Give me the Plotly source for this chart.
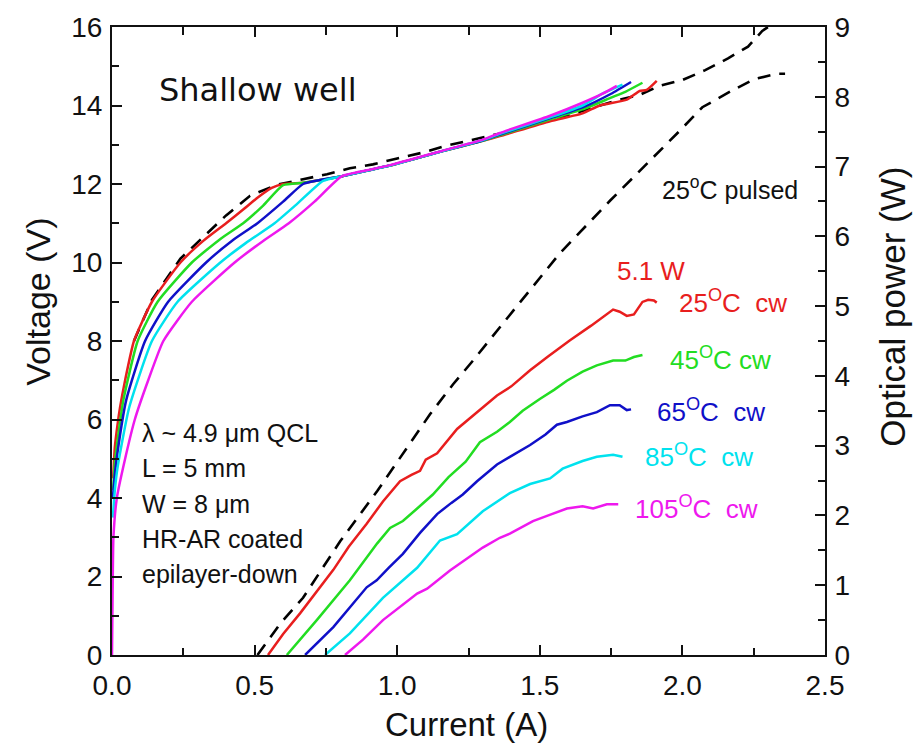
import plotly.graph_objects as go

# ---- Voltage vs current (left axis) ----
i_v25 = [0.004, 0.01, 0.02, 0.028, 0.046, 0.077, 0.14, 0.24, 0.32, 0.40, 0.46, 0.51, 0.56, 0.60, 0.67, 0.73, 0.806, 0.9, 0.975, 1.15, 1.3, 1.36, 1.536, 1.65, 1.71, 1.805, 1.85, 1.875, 1.91]
v_25 = [4.5, 5.3, 5.9, 6.3, 7.0, 8.0, 9.0, 10.0, 10.55, 11.0, 11.35, 11.65, 11.9, 12.0, 12.03, 12.1, 12.2, 12.35, 12.47, 12.82, 13.1, 13.22, 13.6, 13.8, 14.0, 14.15, 14.37, 14.4, 14.63]

i_v45 = [0.004, 0.01, 0.02, 0.04, 0.09, 0.16, 0.28, 0.38, 0.46, 0.53, 0.60, 0.67, 0.73, 0.806, 0.9, 0.975, 1.15, 1.3, 1.36, 1.536, 1.65, 1.75, 1.80, 1.86]
v_45 = [4.2, 4.9, 5.5, 6.5, 8.0, 9.0, 10.0, 10.6, 11.0, 11.45, 11.97, 12.03, 12.1, 12.2, 12.35, 12.47, 12.82, 13.1, 13.24, 13.65, 13.9, 14.2, 14.35, 14.58]

i_v65 = [0.003, 0.01, 0.02, 0.05, 0.116, 0.197, 0.33, 0.42, 0.51, 0.60, 0.67, 0.73, 0.806, 0.9, 0.975, 1.15, 1.3, 1.36, 1.536, 1.65, 1.75, 1.82]
v_65 = [4.0, 4.6, 5.2, 6.5, 8.0, 9.0, 10.0, 10.55, 11.0, 11.55, 12.0, 12.1, 12.2, 12.35, 12.47, 12.82, 13.11, 13.26, 13.68, 13.95, 14.3, 14.6]

i_v85 = [0.003, 0.01, 0.02, 0.06, 0.14, 0.23, 0.38, 0.47, 0.57, 0.65, 0.74, 0.806, 0.9, 0.975, 1.15, 1.3, 1.36, 1.536, 1.65, 1.72, 1.79]
v_85 = [3.5, 4.2, 4.8, 6.3, 8.0, 9.0, 10.0, 10.5, 11.0, 11.5, 12.08, 12.2, 12.35, 12.47, 12.82, 13.12, 13.28, 13.7, 14.0, 14.3, 14.53]

i_v105 = [0.0, 0.002, 0.005, 0.017, 0.046, 0.08, 0.127, 0.18, 0.28, 0.43, 0.53, 0.62, 0.71, 0.806, 0.9, 0.975, 1.15, 1.3, 1.36, 1.536, 1.65, 1.72, 1.77]
v_105 = [0.0, 1.5, 3.0, 4.0, 5.0, 6.0, 7.0, 8.0, 9.0, 10.0, 10.55, 11.0, 11.55, 12.2, 12.36, 12.48, 12.83, 13.13, 13.3, 13.74, 14.07, 14.3, 14.5]

i_vpulsed = [0.077, 0.14, 0.24, 0.31, 0.40, 0.484, 0.578, 0.67, 0.754, 0.834, 0.915, 1.0, 1.09, 1.175, 1.4, 1.6, 1.78, 1.85, 1.92, 2.0, 2.08, 2.16, 2.23, 2.28, 2.30]
v_pulsed = [8.0, 9.05, 10.1, 10.57, 11.2, 11.7, 11.98, 12.12, 12.25, 12.4, 12.5, 12.65, 12.8, 12.98, 13.35, 13.75, 14.15, 14.27, 14.5, 14.65, 14.9, 15.2, 15.5, 15.9, 16.0]

# ---- Optical power vs current (right axis) ----
i_p25 = [0.547, 0.60, 0.66, 0.72, 0.776, 0.83, 0.893, 0.95, 1.01, 1.05, 1.08, 1.10, 1.14, 1.21, 1.28, 1.35, 1.40, 1.466, 1.53, 1.606, 1.68, 1.757, 1.78, 1.805, 1.83, 1.86, 1.88, 1.90, 1.91]
p_25 = [0.0, 0.3, 0.6, 0.92, 1.22, 1.55, 1.88, 2.2, 2.49, 2.58, 2.64, 2.8, 2.89, 3.24, 3.48, 3.72, 3.85, 4.08, 4.28, 4.51, 4.72, 4.95, 4.92, 4.86, 4.88, 5.06, 5.09, 5.08, 5.05]

i_p45 = [0.613, 0.718, 0.834, 0.93, 0.975, 1.02, 1.07, 1.125, 1.18, 1.24, 1.29, 1.35, 1.395, 1.44, 1.50, 1.55, 1.595, 1.65, 1.70, 1.757, 1.80, 1.83, 1.86]
p_45 = [0.0, 0.5, 1.07, 1.6, 1.82, 1.92, 2.1, 2.3, 2.55, 2.77, 3.05, 3.2, 3.34, 3.5, 3.67, 3.8, 3.93, 4.06, 4.15, 4.22, 4.22, 4.27, 4.30]

i_p65 = [0.677, 0.776, 0.893, 0.928, 0.97, 1.02, 1.08, 1.14, 1.19, 1.23, 1.28, 1.35, 1.395, 1.466, 1.52, 1.56, 1.595, 1.65, 1.70, 1.746, 1.78, 1.805, 1.82]
p_65 = [0.0, 0.40, 0.97, 1.07, 1.25, 1.45, 1.75, 2.02, 2.18, 2.3, 2.49, 2.73, 2.84, 3.01, 3.16, 3.3, 3.34, 3.42, 3.48, 3.58, 3.58, 3.51, 3.52]

i_p85 = [0.747, 0.834, 0.95, 1.07, 1.15, 1.21, 1.30, 1.36, 1.395, 1.466, 1.536, 1.58, 1.65, 1.70, 1.757, 1.79]
p_85 = [0.0, 0.31, 0.82, 1.25, 1.64, 1.73, 2.06, 2.23, 2.32, 2.45, 2.53, 2.67, 2.78, 2.84, 2.87, 2.84]

i_p105 = [0.817, 0.88, 0.95, 1.07, 1.105, 1.185, 1.30, 1.36, 1.395, 1.476, 1.53, 1.595, 1.65, 1.687, 1.735, 1.775]
p_105 = [0.0, 0.22, 0.50, 0.88, 0.95, 1.21, 1.54, 1.68, 1.74, 1.92, 2.0, 2.1, 2.13, 2.1, 2.16, 2.16]

i_ppulsed = [0.51, 0.59, 0.67, 0.80, 0.93, 1.055, 1.115, 1.196, 1.266, 1.42, 1.571, 1.746, 1.83, 1.91, 1.99, 2.07, 2.17, 2.25, 2.33, 2.36]
p_pulsed = [0.0, 0.45, 0.82, 1.63, 2.35, 3.1, 3.45, 3.88, 4.22, 5.0, 5.76, 6.51, 6.85, 7.18, 7.51, 7.85, 8.08, 8.25, 8.33, 8.33]

RED, GREEN, BLUE, CYAN, MAGENTA = "#e81e1e", "#22dd22", "#1010c8", "#00e2ee", "#ee18ee"

fig = go.Figure()

volt_series = [
    (i_v25, v_25, RED), (i_v45, v_45, GREEN), (i_v65, v_65, BLUE),
    (i_v85, v_85, CYAN), (i_v105, v_105, MAGENTA),
]
power_series = [
    (i_p25, p_25, RED), (i_p45, p_45, GREEN), (i_p65, p_65, BLUE),
    (i_p85, p_85, CYAN), (i_p105, p_105, MAGENTA),
]

fig.add_trace(go.Scatter(x=i_vpulsed, y=v_pulsed, mode="lines",
                         line=dict(color="black", width=2.6, dash="13px,9px"),
                         yaxis="y"))
for xs, ys, c in volt_series:
    fig.add_trace(go.Scatter(x=xs, y=ys, mode="lines",
                             line=dict(color=c, width=2.5, shape="spline", smoothing=0.5),
                             yaxis="y"))

fig.add_trace(go.Scatter(x=i_ppulsed, y=p_pulsed, mode="lines",
                         line=dict(color="black", width=2.6, dash="13px,9px"),
                         yaxis="y2"))
for xs, ys, c in power_series:
    fig.add_trace(go.Scatter(x=xs, y=ys, mode="lines",
                             line=dict(color=c, width=2.5),
                             yaxis="y2"))

L, R, T, B = 112, 98, 24, 94
W, H = 923, 749
PW, PH = W - L - R, H - T - B


def px(xp):
    return (xp - L) / PW


def py(yp):
    return (H - B - yp) / PH


FONT = "Liberation Sans, Arial, sans-serif"
TICKFONT = dict(family=FONT, size=28, color="#111")
MINOR = dict(ticklen=7, tickwidth=2, tickcolor="#111", ticks="inside")

axis_common = dict(showgrid=False, zeroline=False, showline=True, linecolor="#111",
                   linewidth=2, ticks="inside", ticklen=10, tickwidth=2, tickcolor="#111",
                   tickfont=TICKFONT)

fig.update_layout(
    width=W, height=H,
    margin=dict(l=L, r=R, t=T, b=B),
    paper_bgcolor="white", plot_bgcolor="white",
    showlegend=False,
    xaxis=dict(range=[0, 2.5], dtick=0.5, tick0=0, tickformat=".1f", mirror="ticks",
               minor=dict(dtick=0.25, **MINOR), ticklabelstandoff=4, **axis_common),
    # unlabelled top axis carrying the quarter-amp ticks along the upper frame
    xaxis2=dict(range=[0, 2.5], overlaying="x", side="top", showgrid=False, zeroline=False,
                showline=False, ticks="inside", ticklen=8, tickwidth=2, tickcolor="#111",
                dtick=0.25, tick0=0, showticklabels=False),
    yaxis=dict(range=[0, 16], dtick=2, tick0=0, mirror=False,
               minor=dict(dtick=1, **MINOR), ticklabelstandoff=2, **axis_common),
    yaxis2=dict(range=[0, 9], dtick=1, tick0=0, overlaying="y", side="right",
                minor=dict(dtick=0.5, **MINOR), ticklabelstandoff=2, **axis_common),
)
# invisible trace so the top axis is drawn
fig.add_trace(go.Scatter(x=[0, 2.5], y=[0, 0], mode="lines", xaxis="x2", yaxis="y",
                         line=dict(width=0), hoverinfo="skip", showlegend=False))

ann = []


def text(s, xp, yp, size=26, color="#111", xanchor="left", family=FONT, angle=0):
    ann.append(dict(text=s, x=px(xp), y=py(yp), xref="paper", yref="paper",
                    xanchor=xanchor, yanchor="middle", showarrow=False, textangle=angle,
                    font=dict(family=family, size=size, color=color)))


text("Current (A)", 466, 725, size=33, xanchor="center")
text("Voltage (V)", 38, 300, size=34, xanchor="center", angle=-90)
text("Optical power (W)", 893, 305, size=35, xanchor="center", angle=-90)

text("Shallow well", 258, 87, size=32, xanchor="center", family="DejaVu Sans")
text("25<sup>o</sup>C pulsed", 660, 186, size=25)
text("5.1 W", 651, 269, size=26, color=RED, xanchor="center")
text("25<sup>O</sup>C\u00a0\u00a0cw", 677, 300, size=26, color=RED)
text("45<sup>O</sup>C cw", 668, 357, size=26, color=GREEN)
text("65<sup>O</sup>C\u00a0\u00a0cw", 655, 409, size=26, color=BLUE)
text("85<sup>O</sup>C\u00a0\u00a0cw", 643, 455, size=26, color=CYAN)
text("105<sup>O</sup>C\u00a0\u00a0cw", 633, 507, size=26, color=MAGENTA)

info_lines = ["\u03bb ~ 4.9 \u03bcm QCL", "L = 5 mm", "W = 8 \u03bcm", "HR-AR coated", "epilayer-down"]
for k, line in enumerate(info_lines):
    text(line, 140, 432 + k * 35.5, size=25)

fig.update_layout(annotations=ann)

fig.write_html("out.html")
